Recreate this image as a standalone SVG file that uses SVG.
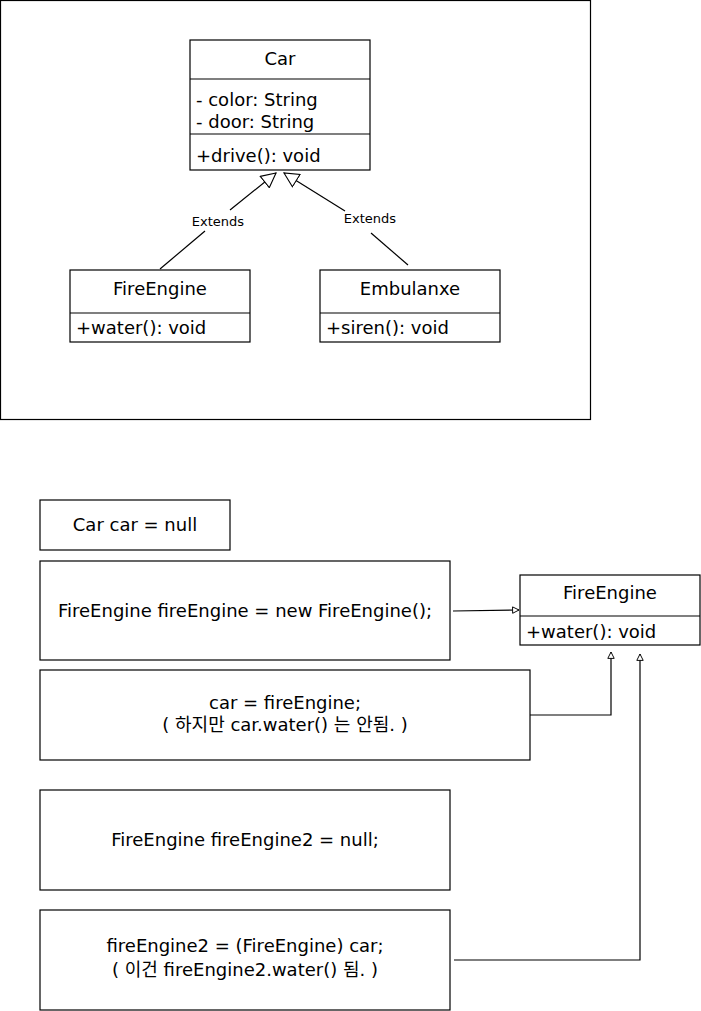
<svg xmlns="http://www.w3.org/2000/svg" width="701" height="1011" viewBox="0 0 701 1011">
<defs>
<style>
.box{fill:#fff;stroke:#000;stroke-width:1.2}
.ln{stroke:#000;stroke-width:1.2;fill:none}
.t{font-family:"DejaVu Sans","Noto Sans CJK KR",sans-serif;font-size:18px;fill:#000}
.c{text-anchor:middle}
.s{font-family:"DejaVu Sans",sans-serif;font-size:13px;fill:#000;text-anchor:middle}
</style>
<marker id="tri" viewBox="0 0 20 20" refX="19" refY="10" markerWidth="16" markerHeight="16" markerUnits="userSpaceOnUse" orient="auto">
<path d="M1,1 L19,10 L1,19 Z" fill="#fff" stroke="#000" stroke-width="1.4"/>
</marker>
<marker id="open" viewBox="0 0 10 10" refX="9" refY="5" markerWidth="8" markerHeight="8" markerUnits="userSpaceOnUse" orient="auto">
<path d="M1,1 L9,5 L1,9 Z" fill="#fff" stroke="#000" stroke-width="1.2"/>
</marker>
</defs>
<rect width="701" height="1011" fill="#fff"/>
<rect x="0.5" y="0.5" width="590" height="419" class="box"/>
<g id="car">
<rect x="190" y="40" width="180" height="130" class="box"/>
<line x1="190" y1="79" x2="370" y2="79" class="ln"/>
<line x1="190" y1="134" x2="370" y2="134" class="ln"/>
<text x="280" y="65" class="t c">Car</text>
<text x="196" y="106" class="t">- color: String</text>
<text x="196" y="128" class="t">- door: String</text>
<text x="196" y="162" class="t">+drive(): void</text>
</g>
<g id="fireengine1">
<rect x="70" y="270" width="180" height="72" class="box"/>
<line x1="70" y1="313" x2="250" y2="313" class="ln"/>
<text x="160" y="295" class="t c">FireEngine</text>
<text x="76" y="334" class="t">+water(): void</text>
</g>
<g id="embulanxe">
<rect x="320" y="270" width="180" height="72" class="box"/>
<line x1="320" y1="313" x2="500" y2="313" class="ln"/>
<text x="410" y="295" class="t c">Embulanxe</text>
<text x="326" y="334" class="t">+siren(): void</text>
</g>
<g id="carnull">
<rect x="40" y="500" width="190" height="50" class="box"/>
<text x="135" y="531" class="t c">Car car = null</text>
</g>
<g id="newfe">
<rect x="40" y="561" width="410" height="99" class="box"/>
<text x="245" y="617" class="t c">FireEngine fireEngine = new FireEngine();</text>
</g>
<g id="fireengine2">
<rect x="520" y="575" width="180" height="70" class="box"/>
<line x1="520" y1="616" x2="700" y2="616" class="ln"/>
<text x="610" y="599" class="t c">FireEngine</text>
<text x="526" y="638" class="t">+water(): void</text>
</g>
<g id="assign">
<rect x="40" y="670" width="490" height="90" class="box"/>
<text x="285" y="709" class="t c">car = fireEngine;</text>
<text x="285" y="731" class="t c">( 하지만 car.water() 는 안됨. )</text>
</g>
<g id="fe2null">
<rect x="40" y="790" width="410" height="100" class="box"/>
<text x="245" y="846" class="t c">FireEngine fireEngine2 = null;</text>
</g>
<g id="cast">
<rect x="40" y="910" width="410" height="100" class="box"/>
<text x="245" y="952" class="t c">fireEngine2 = (FireEngine) car;</text>
<text x="245" y="976" class="t c">( 이건 fireEngine2.water() 됨. )</text>
</g>
<g id="connectors">
<line x1="160" y1="269" x2="205" y2="231" class="ln"/>
<line x1="230" y1="210" x2="276" y2="173" class="ln" marker-end="url(#tri)"/>
<text x="218" y="226" class="s">Extends</text>
<line x1="408" y1="265" x2="371" y2="233" class="ln"/>
<line x1="345" y1="211" x2="284" y2="173" class="ln" marker-end="url(#tri)"/>
<text x="370" y="223" class="s">Extends</text>
<line x1="453" y1="611" x2="519" y2="610" class="ln" marker-end="url(#open)"/>
<polyline points="530,715 611,715 611,652" class="ln" marker-end="url(#open)"/>
<polyline points="454,960 640,960 640,654" class="ln" marker-end="url(#open)"/>
</g>
</svg>
